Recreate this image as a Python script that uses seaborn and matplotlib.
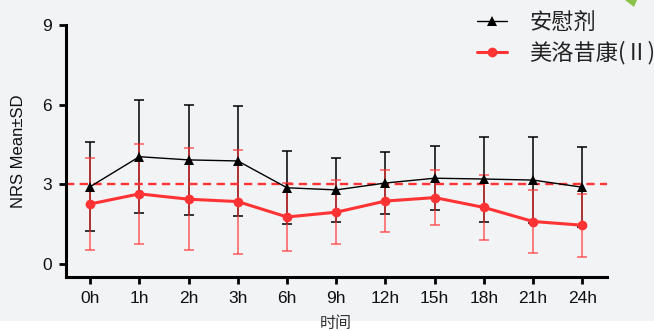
import matplotlib
matplotlib.use("Agg")
import matplotlib.pyplot as plt
import seaborn as sns
import numpy as np
import pandas as pd
from matplotlib.patches import Polygon, Rectangle
from matplotlib.lines import Line2D

# ---- data ----
time_labels = ["0h", "1h", "2h", "3h", "6h", "9h", "12h", "15h", "18h", "21h", "24h"]
placebo_mean = [2.91, 4.04, 3.92, 3.88, 2.87, 2.79, 3.05, 3.23, 3.20, 3.16, 2.89]
placebo_sd = [1.68, 2.12, 2.08, 2.06, 1.37, 1.22, 1.17, 1.20, 1.60, 1.62, 1.50]
melox_mean = [2.26, 2.64, 2.44, 2.35, 1.77, 1.95, 2.37, 2.50, 2.13, 1.60, 1.46]
melox_sd = [1.73, 1.88, 1.93, 1.96, 1.27, 1.20, 1.18, 1.04, 1.24, 1.20, 1.19]
series_names = ["安慰剂", "美洛昔康(Ⅱ)"]
y_ticks = [0, 3, 6, 9]
ref_line = 3

sns.set_theme(style="white")
plt.rcParams['font.family'] = ['Liberation Sans', 'Noto Sans CJK SC', 'DejaVu Sans']

W, H = 654, 331
BG = "#F2F3F5"
fig = plt.figure(figsize=(W / 100, H / 100), dpi=100, facecolor=BG)
# white strip at bottom
fig.patches.append(Rectangle((0, 0), 1, 10.5 / H, transform=fig.transFigure,
                             facecolor="white", edgecolor="none", zorder=0))
# green corner decoration
fig.patches.append(Polygon([(625 / W, 1), (637 / W, 1), (634 / W, 1 - 7 / H)], closed=True,
                           transform=fig.transFigure, facecolor="#8BC34A",
                           edgecolor="none", zorder=1))

ax = fig.add_axes([66 / W, (H - 277) / H, (607 - 66) / W, (277 - 25) / H])
ax.set_facecolor(BG)

x = np.arange(len(time_labels))
df = pd.DataFrame({
    "x": np.concatenate([x, x]),
    "y": placebo_mean + melox_mean,
    "group": [series_names[0]] * len(x) + [series_names[1]] * len(x),
})

red = "#FF3333"

# error bars
ax.errorbar(x, placebo_mean, yerr=placebo_sd, fmt="none", ecolor="black",
            elinewidth=1.1, capsize=3.4, capthick=1.1, zorder=2)
ax.errorbar(x, melox_mean, yerr=melox_sd, fmt="none", ecolor=red, alpha=0.72,
            elinewidth=1.2, capsize=3.4, capthick=1.2, zorder=3)

# reference line
ax.axhline(ref_line, color=red, lw=1.7, ls=(0, (3.5, 2.3)), zorder=2.5)

sns.lineplot(data=df, x="x", y="y", hue="group", style="group",
             palette={series_names[0]: "black", series_names[1]: red},
             markers={series_names[0]: "^", series_names[1]: "o"},
             dashes=False, ax=ax, legend=False, zorder=4)
for ln in ax.get_lines():
    if ln.get_marker() == "^":
        ln.set_linewidth(1.0)
        ln.set_markersize(6.5)
        ln.set_markeredgewidth(0)
        ln.set_zorder(4)
    elif ln.get_marker() == "o":
        ln.set_linewidth(2.2)
        ln.set_markersize(7)
        ln.set_markeredgewidth(0)
        ln.set_zorder(5)

ax.set_xlim(-0.49, 10.5)
ax.set_ylim(-0.49, 9)
ax.set_xticks(x)
ax.set_xticklabels(time_labels)
ax.set_yticks(y_ticks)
ax.set_yticklabels([str(v) for v in y_ticks])
for s in ["top", "right"]:
    ax.spines[s].set_visible(False)
for s in ["left", "bottom"]:
    ax.spines[s].set_linewidth(2.2)
    ax.spines[s].set_color("black")
ax.tick_params(axis="both", direction="out", length=5, width=2, color="black",
               labelsize=12.5, labelcolor="#111111", pad=5, left=True, bottom=True)
ax.set_xlabel("")
ax.set_ylabel("")

fig.text(19 / W, 1 - 151 / H, "NRS Mean±SD", rotation=90, ha="center", va="center",
         fontsize=12, color="#111111")
fig.text(336 / W, 1 - 315 / H, "时间", ha="center", va="top", fontsize=11.5,
         color="#333333", family=["Noto Sans CJK SC", "DejaVu Sans"])

# legend
handles = [
    Line2D([0], [0], color="black", lw=1.0, marker="^", markersize=6.5, markeredgewidth=0),
    Line2D([0], [0], color=red, lw=2.2, marker="o", markersize=7, markeredgewidth=0),
]
leg = fig.legend(handles, series_names, loc="upper left",
                 bbox_to_anchor=(477 / W, 1 - 11 / H), frameon=False,
                 borderpad=0, borderaxespad=0, handlelength=1.35, handletextpad=1.0,
                 labelspacing=0.3,
                 prop={"family": ["Noto Sans CJK SC", "DejaVu Sans"], "size": 16})
for t in leg.get_texts():
    t.set_color("#222222")

fig.savefig("out.png", dpi=100, facecolor=BG)
